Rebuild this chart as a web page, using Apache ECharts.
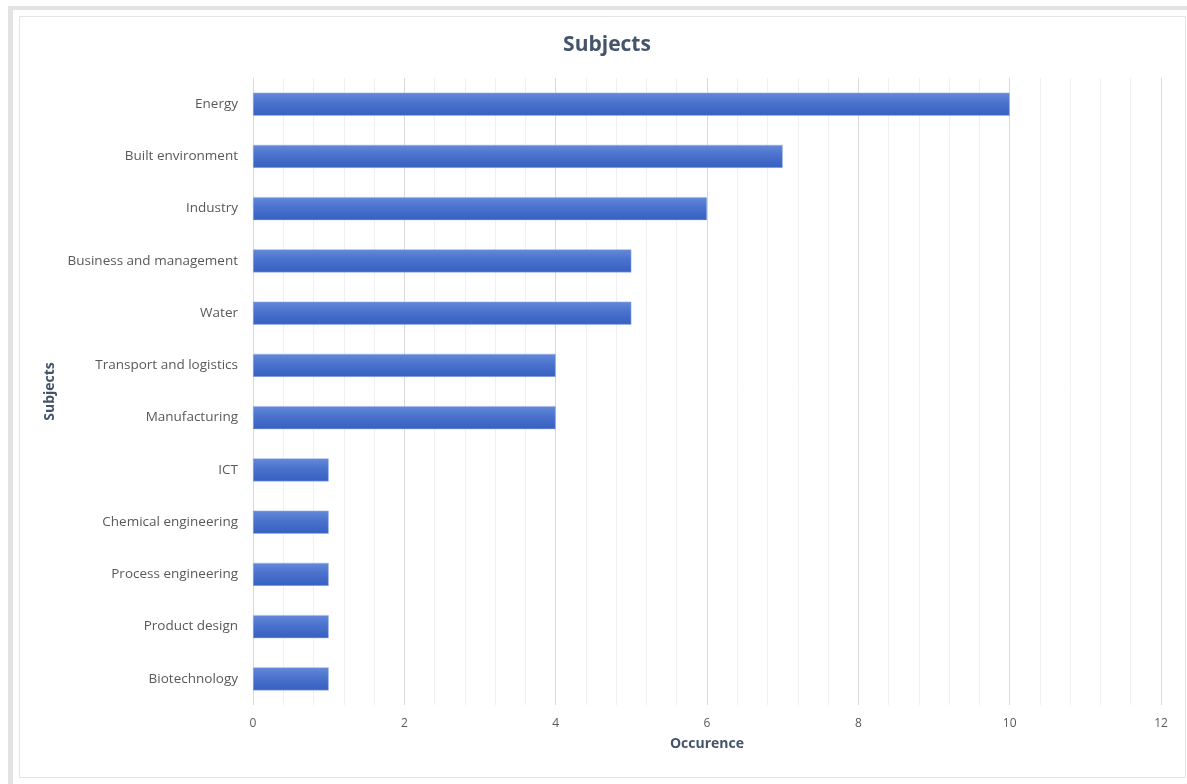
<!DOCTYPE html>
<html><head><meta charset="utf-8">
<script src="https://cdn.jsdelivr.net/npm/echarts@6/dist/echarts.min.js"></script>
<style>html,body{margin:0;padding:0;background:#fff}#c{width:1187px;height:784px}</style>
</head><body><div id="c"></div>
<script>
const categories = ["Energy","Built environment","Industry","Business and management","Water","Transport and logistics","Manufacturing","ICT","Chemical engineering","Process engineering","Product design","Biotechnology"];
const occurrences = [10,7,6,5,5,4,4,1,1,1,1,1];
const xTicks = {min:0, max:12, interval:2};
const FONT = "'Open Sans', sans-serif";
const chart = echarts.init(document.getElementById('c'), null, {renderer:'canvas'});
chart.setOption({
  backgroundColor:'#ffffff',
  animation:false,
  graphic:[
    {type:'rect', shape:{x:8,y:6,width:5,height:778}, style:{fill:'#e3e3e3'}, silent:true},
    {type:'rect', shape:{x:8,y:6,width:1179,height:4}, style:{fill:'#e3e3e3'}, silent:true},
    {type:'rect', shape:{x:19.5,y:16.5,width:1166,height:761}, style:{fill:'none',stroke:'#e4e4e4',lineWidth:1}, silent:true}
  ],
  title:{text:'Subjects', left:602, top:30, textAlign:'center',
    textStyle:{fontFamily:FONT, fontSize:21, fontWeight:'bold', color:'#44546a'}},
  grid:{left:253, right:26, top:78, bottom:79, containLabel:false},
  xAxis:{type:'value', min:xTicks.min, max:xTicks.max, interval:xTicks.interval,
    name:'Occurence', nameLocation:'middle', nameGap:32,
    nameTextStyle:{fontFamily:FONT, fontSize:14, fontWeight:'bold', color:'#44546a'},
    axisLine:{show:false}, axisTick:{show:false},
    axisLabel:{fontFamily:FONT, fontSize:12, color:'#595959', margin:13},
    splitLine:{show:true, lineStyle:{color:'#d9d9d9', width:1}},
    minorTick:{show:false, splitNumber:5},
    minorSplitLine:{show:true, lineStyle:{color:'#f0f0f0', width:1}}
  },
  yAxis:{type:'category', data:categories, inverse:true,
    name:'Subjects', nameLocation:'middle', nameGap:196, nameRotate:90,
    nameTextStyle:{fontFamily:FONT, fontSize:14, fontWeight:'bold', color:'#44546a'},
    axisLine:{show:false}, axisTick:{show:false},
    axisLabel:{fontFamily:FONT, fontSize:13.5, color:'#595959', margin:15},
    splitLine:{show:false}
  },
  series:[{type:'bar', data:occurrences, barWidth:23,
    itemStyle:{color:new echarts.graphic.LinearGradient(0,0,0,1,[
      {offset:0,color:'#6489da'},{offset:0.45,color:'#4a72cd'},{offset:1,color:'#3660c0'}]),
      borderColor:'#9fb6e6', borderWidth:0.5}
  }]
});
</script></body></html>
